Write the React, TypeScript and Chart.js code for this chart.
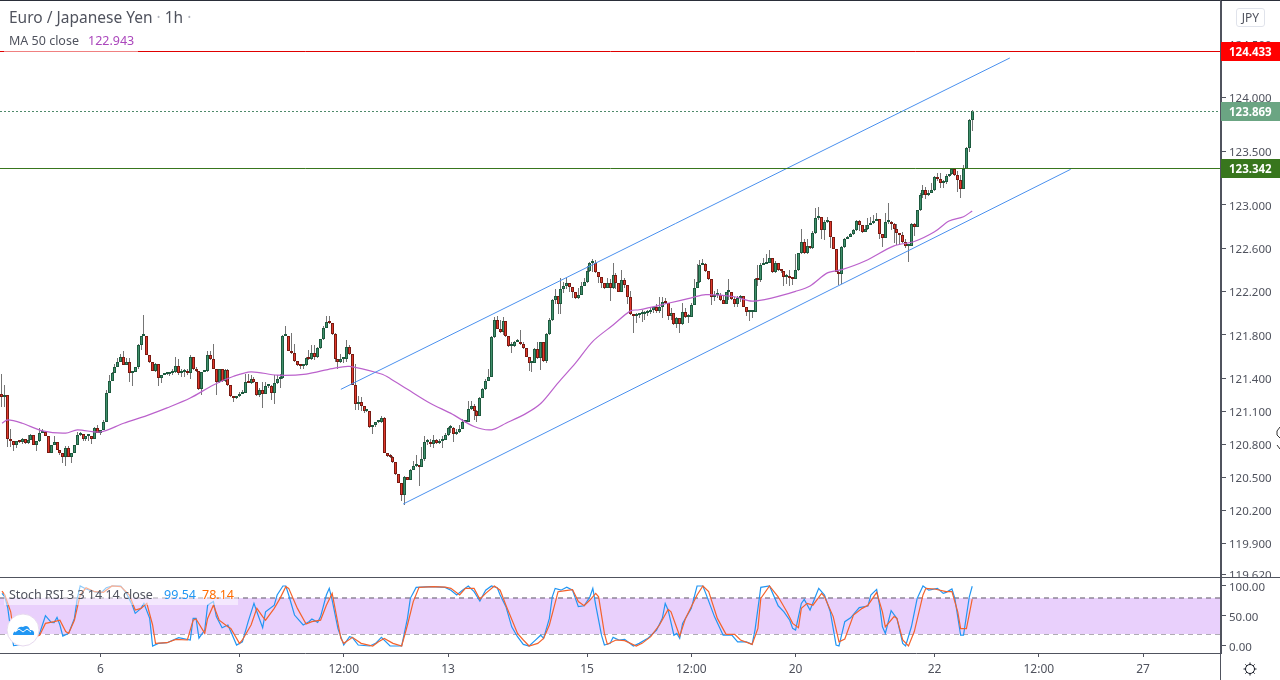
import { useEffect, useRef } from "react";
import { Chart, registerables } from "chart.js";

Chart.register(...registerables);

const FONT = '"Noto Sans", sans-serif';
const TEXT = "#50535e";

// candles, one per hour, open = previous close
const firstOpen = 121.26;
const closes = [
  121.23,121.25,120.85,120.83,120.79,120.83,120.82,120.85,120.81,120.84,
  120.88,120.79,120.83,120.90,120.91,120.87,120.72,120.79,120.82,120.75,
  120.72,120.68,120.76,120.68,120.72,120.79,120.88,120.89,120.85,120.87,
  120.87,120.85,120.95,120.90,120.93,121.00,121.27,121.38,121.45,121.50,
  121.55,121.60,121.52,121.55,121.45,121.46,121.50,121.71,121.79,121.79,
  121.61,121.55,121.47,121.53,121.40,121.43,121.44,121.44,121.45,121.46,
  121.51,121.45,121.46,121.47,121.45,121.60,121.49,121.47,121.30,121.46,
  121.47,121.61,121.58,121.49,121.37,121.49,121.38,121.48,121.34,121.24,
  121.22,121.24,121.26,121.27,121.37,121.36,121.39,121.37,121.25,121.29,
  121.26,121.33,121.33,121.27,121.36,121.39,121.40,121.79,121.79,121.65,
  121.63,121.56,121.52,121.51,121.52,121.59,121.58,121.63,121.60,121.68,
  121.76,121.86,121.92,121.91,121.81,121.58,121.55,
  121.58,121.58,121.69,121.62,121.34,121.17,121.18,121.15,121.10,121.10,
  120.96,120.97,121.00,121.00,121.04,120.72,120.69,120.68,120.64,120.53,
  120.45,120.34,120.50,120.47,120.56,120.60,120.60,120.59,120.66,120.82,
  120.82,120.80,120.84,120.81,120.83,120.84,120.88,120.95,120.95,120.89,
  120.91,120.94,121.00,121.00,121.12,121.15,121.10,121.06,121.22,121.30,
  121.38,121.41,121.78,121.94,121.85,121.83,121.93,121.79,121.70,121.70,
  121.73,121.73,121.72,121.68,121.60,121.54,121.54,121.67,121.59,121.73,
  121.56,121.81,121.94,122.12,122.16,122.08,122.22,122.25,122.28,122.24,
  122.19,122.14,122.17,122.25,122.29,122.39,122.46,122.46,122.38,122.33,
  122.28,122.23,122.28,122.23,122.35,122.28,122.19,122.30,122.26,122.15,
  121.99,121.97,121.98,121.99,121.99,122.00,122.01,122.03,122.06,122.02,
  122.06,122.10,122.09,121.97,122.00,121.90,121.95,121.90,122.01,121.96,
  121.96,122.07,122.23,122.29,122.44,122.45,122.39,122.31,122.15,122.17,
  122.17,122.12,122.08,122.19,122.19,122.13,122.08,122.14,122.16,122.06,
  122.01,122.01,122.01,122.31,122.30,122.44,122.45,122.46,122.51,122.38,
  122.46,122.40,122.39,122.33,122.33,122.32,122.31,122.40,122.55,122.66,
  122.55,122.62,122.60,122.74,122.88,122.89,122.77,122.84,122.85,122.70,
  122.59,122.38,122.36,122.61,122.68,122.70,122.73,122.77,122.85,122.81,
  122.75,122.78,122.81,122.83,122.85,122.87,122.73,122.69,122.84,122.84,
  122.82,122.78,122.74,122.72,122.66,122.62,122.62,122.82,122.79,122.95,
  123.09,123.14,123.09,123.11,123.14,123.26,123.24,123.20,123.21,123.27,
  123.29,123.33,123.28,123.23,123.15,123.33,123.53,123.79,123.87,
];
const highs = [
  121.44,121.34,121.25,120.94,120.83,120.83,120.83,120.86,120.85,120.88,
  120.89,120.88,120.83,120.95,120.94,120.91,120.87,120.79,120.87,120.82,
  120.75,120.72,120.78,120.78,120.72,120.79,120.91,120.91,120.89,120.87,
  120.88,120.87,120.96,120.97,120.93,121.02,121.29,121.43,121.46,121.53,
  121.59,121.62,121.65,121.59,121.59,121.46,121.50,121.72,121.79,121.98,
  121.79,121.61,121.55,121.54,121.53,121.43,121.44,121.44,121.46,121.49,
  121.60,121.58,121.49,121.49,121.49,121.61,121.60,121.50,121.47,121.46,
  121.47,121.65,121.65,121.72,121.49,121.49,121.49,121.49,121.49,121.34,
  121.24,121.24,121.28,121.29,121.44,121.44,121.43,121.41,121.37,121.31,
  121.37,121.37,121.34,121.34,121.43,121.43,121.44,121.80,121.88,121.79,
  121.82,121.72,121.56,121.53,121.53,121.60,121.66,121.71,121.71,121.69,
  121.76,121.88,121.97,121.97,121.91,121.82,121.58,
  121.62,121.60,121.75,121.71,121.62,121.53,121.24,121.23,121.15,121.11,
  121.10,120.97,121.00,121.00,121.06,121.05,120.72,120.71,120.69,120.64,
  120.53,120.45,120.51,120.50,120.57,120.65,120.70,120.60,120.77,120.87,
  120.85,120.85,120.88,120.85,120.85,120.87,120.90,120.96,120.97,120.96,
  120.94,120.97,121.03,121.02,121.19,121.19,121.17,121.11,121.23,121.31,
  121.39,121.49,121.79,121.96,121.97,121.94,121.96,121.93,121.79,121.73,
  121.74,121.76,121.84,121.73,121.68,121.60,121.54,121.68,121.73,121.73,
  121.73,121.82,121.95,122.13,122.22,122.16,122.32,122.29,122.32,122.28,
  122.24,122.19,122.23,122.29,122.32,122.43,122.47,122.50,122.49,122.38,
  122.33,122.28,122.32,122.31,122.46,122.37,122.28,122.40,122.32,122.26,
  122.20,121.99,122.00,122.00,122.03,122.02,122.03,122.06,122.06,122.08,
  122.15,122.15,122.14,122.09,122.05,122.00,121.96,121.95,122.09,122.05,
  121.99,122.09,122.31,122.45,122.49,122.50,122.46,122.39,122.31,122.20,
  122.22,122.18,122.16,122.19,122.31,122.19,122.15,122.16,122.17,122.16,
  122.06,122.03,122.03,122.32,122.44,122.46,122.51,122.54,122.58,122.51,
  122.48,122.46,122.41,122.39,122.36,122.40,122.33,122.54,122.55,122.78,
  122.68,122.68,122.62,122.76,122.97,122.98,122.89,122.86,122.89,122.85,
  122.70,122.59,122.39,122.62,122.69,122.71,122.74,122.78,122.86,122.86,
  122.81,122.81,122.88,122.89,122.91,122.92,122.87,122.73,122.92,123.02,
  122.85,122.83,122.82,122.74,122.75,122.68,122.63,122.83,122.83,122.95,
  123.11,123.18,123.17,123.14,123.20,123.27,123.30,123.30,123.23,123.29,
  123.29,123.34,123.34,123.31,123.28,123.37,123.54,123.80,123.88,
];
const lows = [
  121.14,121.14,120.77,120.77,120.74,120.76,120.81,120.80,120.80,120.80,
  120.84,120.79,120.74,120.82,120.90,120.87,120.72,120.72,120.79,120.75,
  120.70,120.63,120.60,120.68,120.63,120.72,120.79,120.87,120.83,120.83,
  120.83,120.80,120.85,120.90,120.88,120.93,121.00,121.27,121.38,121.45,
  121.50,121.55,121.52,121.52,121.37,121.33,121.46,121.49,121.66,121.79,
  121.61,121.54,121.47,121.46,121.33,121.36,121.43,121.43,121.42,121.43,
  121.45,121.43,121.41,121.41,121.43,121.39,121.48,121.46,121.29,121.25,
  121.46,121.46,121.57,121.49,121.25,121.36,121.37,121.37,121.33,121.23,
  121.18,121.21,121.23,121.26,121.27,121.36,121.35,121.36,121.24,121.23,
  121.13,121.26,121.31,121.20,121.17,121.35,121.31,121.39,121.79,121.65,
  121.62,121.55,121.51,121.49,121.49,121.51,121.57,121.57,121.57,121.59,
  121.67,121.75,121.86,121.90,121.80,121.55,121.49,
  121.54,121.54,121.55,121.61,121.34,121.11,121.11,121.10,121.08,121.09,
  120.95,120.89,120.96,120.99,120.99,120.72,120.68,120.67,120.63,120.52,
  120.45,120.28,120.25,120.47,120.47,120.56,120.59,120.42,120.59,120.65,
  120.79,120.77,120.76,120.80,120.80,120.76,120.84,120.87,120.90,120.82,
  120.88,120.90,120.94,120.99,121.00,121.11,121.02,121.00,121.06,121.22,
  121.29,121.38,121.41,121.77,121.85,121.82,121.80,121.78,121.69,121.63,
  121.69,121.73,121.71,121.67,121.60,121.47,121.46,121.54,121.58,121.48,
  121.55,121.54,121.80,121.93,122.08,121.99,121.99,122.18,122.22,122.19,
  122.14,122.13,122.13,122.19,122.25,122.28,122.38,122.38,122.37,122.28,
  122.23,122.22,122.23,122.11,122.22,122.22,122.19,122.19,122.23,122.08,
  121.98,121.82,121.91,121.95,121.92,121.94,121.97,121.99,122.00,122.00,
  122.00,121.95,122.08,121.94,121.94,121.89,121.86,121.82,121.89,121.95,
  121.91,121.96,122.08,122.23,122.28,122.44,122.38,122.30,122.07,122.11,
  122.14,122.11,122.08,122.08,122.12,122.12,122.06,122.06,122.10,122.06,
  121.97,121.93,121.95,122.01,122.25,122.29,122.44,122.46,122.46,122.37,
  122.37,122.39,122.37,122.25,122.27,122.25,122.26,122.31,122.39,122.54,
  122.54,122.54,122.59,122.59,122.73,122.86,122.68,122.67,122.83,122.60,
  122.59,122.38,122.26,122.27,122.60,122.68,122.70,122.72,122.76,122.76,
  122.74,122.75,122.77,122.81,122.82,122.85,122.68,122.61,122.69,122.82,
  122.77,122.65,122.63,122.63,122.65,122.60,122.47,122.62,122.71,122.79,
  122.94,123.06,123.05,123.08,123.11,123.13,123.22,123.16,123.16,123.19,
  123.26,123.28,123.27,123.12,123.06,123.15,123.33,123.49,123.69,
];

// MA 50, read at its bends
const maBars = [0,2,7,14,22,26,34,42,50,57,65,73,80,86,95,105,114,120,131,134,140,148,155,163,169,174,181,186,192,198,204,211,217,220,230,238,243,253,259,266,274,279,285,290,298,308,315,322,327,332,335];
const maValues = [120.99,121.02,120.99,120.92,120.90,120.93,120.91,120.99,121.06,121.13,121.22,121.34,121.42,121.46,121.43,121.44,121.49,121.51,121.44,121.40,121.30,121.17,121.08,120.96,120.93,120.99,121.08,121.17,121.36,121.54,121.74,121.89,122.02,122.03,122.09,122.14,122.17,122.15,122.11,122.14,122.20,122.25,122.37,122.40,122.48,122.62,122.66,122.75,122.85,122.89,122.943];

// channel drawn on the chart
const upperBars = [117, 348];
const upperPrices = [121.30, 124.37];
const lowerBars = [138.5, 369];
const lowerPrices = [120.255, 123.33];

const priceTicks = [124.5, 124, 123.5, 123, 122.6, 122.2, 121.8, 121.4, 121.1, 120.8, 120.5, 120.2, 119.9, 119.62];
const redLevel = 124.433;
const lastLevel = 123.869;
const greenLevel = 123.342;

// Stoch RSI, read at its bends
const kBars = [0,1,2,3,4,6,7,11,13,15,17,18,19,20,21,23,25,26,27,29,32,34,36,38,41,43,45,46,48,49,51,52,54,57,61,65,66,67,68,70,71,73,74,76,78,79,81,83,85,87,88,90,91,94,95,97,98,99,101,104,106,107,109,110,112,113,114,116,118,120,121,123,127,129,131,134,138,140,141,143,148,153,155,157,159,161,163,165,167,169,171,172,174,176,178,180,182,184,186,187,189,190,191,193,195,197,199,201,203,204,205,207,208,210,211,213,215,218,220,223,226,228,229,230,232,233,234,235,238,240,242,243,246,249,252,254,257,259,260,262,265,268,270,272,273,274,276,277,279,282,284,286,288,289,291,293,296,299,300,302,303,304,305,307,309,311,312,314,316,318,320,323,325,326,328,329,331,332,334,335];
const kValues = [87.7,82,63,27,0.5,1.6,4,13,21,50.5,39.4,39,47.7,35,16.6,21,46,79.4,100,95,90.5,87.7,97,100,100,87.7,68,54.4,62.7,71,46,0,4.4,5.5,14,10,46,46,13,26.6,68,74,49,30.5,35,24,1.6,7,40.5,71,57,30.5,57,68,85,100,100,85,51.6,35,40.5,45,39.4,49,85,96,76.6,29,1.6,15.5,14,1.6,0,4.4,14.4,0,0,46,79.4,97.7,98.9,97.7,93,85,93,100,90.5,75,93,100,97,85,65.5,32,15.5,2.7,0,9,18,12.7,46,82,96,93,98,93,65.5,67,82,96,68,18,1.6,4.4,14.4,10,11,0,4.4,12.7,26.6,46,71,60,18,21,12.7,37.7,62.7,100,100,87.7,49,18,18,7,7,2.7,26.6,97.7,100,67,57,43,29.4,26.6,71,77.7,60,96,85,57,1.6,0,40.5,47,64,66.6,85,94.4,68,32,21,59,46,4.4,0,32,79.4,100,93,96,87.7,89.4,95,79.4,18,18,82,99.54];
const dBars = [0,1,3,4,6,13,15,18,20,22,23,25,27,29,32,35,38,41,44,46,48,50,52,53,57,60,64,66,67,70,71,73,75,78,79,82,83,86,88,90,91,94,96,98,99,102,105,107,110,112,114,115,117,118,121,124,128,130,132,135,138,140,142,144,149,153,155,158,160,163,165,167,170,172,174,178,180,182,185,187,189,192,194,197,199,201,203,205,206,208,209,212,215,219,221,224,227,230,231,234,236,240,242,244,247,250,253,255,259,261,262,265,268,271,273,275,276,278,280,283,284,287,289,291,294,297,299,302,304,305,308,309,311,313,315,318,319,322,326,328,330,331,333,335];
const dValues = [91.6,85,57,24,7,18,37.7,40.5,43,24,21,43,85,97,90.5,89.4,100,98.9,85,60,62.7,71,35,4.4,5.5,11,10,43,45,21,46,68,43,32,29.4,4.4,10,35,62.7,49,43,62.7,79.4,98.9,96,62.7,36.6,40.5,43,68,87.7,62.7,12.7,4.4,14.4,4.4,0,7,12.7,4.4,0,35,74,97.7,98.9,98,96,85,96,96,78,87.7,100,93,68,21,10,0,4.4,12.7,35,90.5,92,94,74,67,76.6,87.7,82,21,3,10,8.9,0,4.4,15.5,35,61,57,16.6,46,85,100,90.5,46,19.4,19.4,10,2.7,29.4,79.4,100,82,57,37.7,30.5,62.7,71,68,87.7,82,49,7,11.6,51.6,62.7,68,89.4,57,32,49,46,10,0,24,85,96,95,90.5,90.5,57,29,29,78.14];

const stochTicks = [100, 50, 0];
const bandTop = 80;
const bandBottom = 20;

const timeTickBars = [34, 82, 118, 154, 202, 238, 274, 322, 358, 394];
const timeTickLabels = ["6", "8", "12:00", "13", "15", "12:00", "20", "22", "12:00", "27"];

const X_MIN = -0.69;
const X_MAX = 420.9;

const opens = closes.map((_, i) => (i === 0 ? firstOpen : closes[i - 1]));
const toPoints = (xs: number[], ys: number[]) => xs.map((x, i) => ({ x, y: ys[i] }));
const rowOf = (y: number) => Math.round(y - 0.25) + 0.5;

// candles and level lines sit on whole pixels in the reference
const snapMarks = {
  id: "snapMarks",
  beforeDatasetsDraw(chart: Chart) {
    [0, 1].forEach((d) => {
      chart.getDatasetMeta(d).data.forEach((el: any) => {
        el.x = Math.floor(el.x) + 0.5;
        el.y = Math.round(el.y);
        el.base = Math.round(el.base);
      });
    });
    [5, 6, 7].forEach((d) => {
      chart.getDatasetMeta(d).data.forEach((el: any) => {
        el.y = rowOf(el.y);
      });
    });
  },
};

const priceBoxes = {
  id: "priceBoxes",
  afterDraw(chart: Chart) {
    const { ctx, scales } = chart;
    const boxes = [
      { v: redLevel, bg: "#ff0000" },
      { v: lastLevel, bg: "#6ba583" },
      { v: greenLevel, bg: "#38761d" },
    ];
    ctx.save();
    ctx.font = `bold 11.5px ${FONT}`;
    ctx.textAlign = "left";
    ctx.textBaseline = "middle";
    for (const b of boxes) {
      const y = rowOf(scales.y.getPixelForValue(b.v));
      ctx.fillStyle = b.bg;
      ctx.fillRect(1221, y - 9.5, 59, 19);
      ctx.fillStyle = "#ffffff";
      ctx.fillText(b.v.toFixed(3), 1229, y + 1);
    }
    ctx.restore();
  },
};

function MainChart() {
  const ref = useRef<HTMLCanvasElement>(null);

  useEffect(() => {
    if (!ref.current) return;
    const up = closes.map((c, i) => c >= opens[i]);
    const hline = (v: number, color: string, dash: number[] = []) => ({
      type: "line" as const,
      data: [{ x: X_MIN, y: v }, { x: X_MAX, y: v }],
      borderColor: color,
      borderWidth: 1,
      borderDash: dash,
      pointRadius: 0,
      order: 1,
    });
    const chart = new Chart(ref.current, {
      type: "bar",
      data: {
        datasets: [
          {
            data: closes.map((_, i) => ({ x: i, y: [lows[i], highs[i]] })),
            backgroundColor: "#757575",
            borderWidth: 0,
            inflateAmount: 0,
            barThickness: 1,
            grouped: false,
            order: 5,
          },
          {
            data: closes.map((c, i) => ({ x: i, y: [opens[i], c] })),
            backgroundColor: up.map((u) => (u ? "#3f8f6b" : "#e0392b")),
            borderColor: up.map((u) => (u ? "#1d5a3e" : "#7a1a12")),
            borderWidth: 1,
            borderSkipped: false,
            inflateAmount: 0,
            barThickness: 3,
            minBarLength: 2,
            grouped: false,
            order: 4,
          },
          {
            type: "line",
            data: toPoints(maBars, maValues),
            borderColor: "#bb62cc",
            borderWidth: 1.2,
            pointRadius: 0,
            tension: 0.3,
            order: 3,
          },
          {
            type: "line",
            data: toPoints(upperBars, upperPrices),
            borderColor: "#4a90ee",
            borderWidth: 1,
            pointRadius: 0,
            order: 2,
          },
          {
            type: "line",
            data: toPoints(lowerBars, lowerPrices),
            borderColor: "#4a90ee",
            borderWidth: 1,
            pointRadius: 0,
            order: 2,
          },
          hline(redLevel, "#e00000"),
          hline(lastLevel, "#4f8a6b", [2, 2]),
          hline(greenLevel, "#38761d"),
        ] as any,
      },
      options: {
        animation: false,
        responsive: false,
        devicePixelRatio: 1,
        events: [],
        layout: { padding: 0 },
        plugins: { legend: { display: false }, tooltip: { enabled: false } },
        scales: {
          x: { type: "linear", display: false, min: X_MIN, max: X_MAX, offset: false },
          y: {
            type: "logarithmic",
            position: "right",
            min: 119.595,
            max: 124.915,
            border: { color: TEXT },
            grid: { drawOnChartArea: false, tickLength: 5, tickColor: TEXT },
            ticks: {
              color: TEXT,
              font: { family: FONT, size: 11.5 },
              padding: 3,
              labelOffset: 1.5,
              autoSkip: false,
              callback: (v) => Number(v).toFixed(3),
            },
            afterBuildTicks: (s) => {
              s.ticks = priceTicks.map((value) => ({ value }));
            },
            afterFit: (s) => {
              s.width = 59;
              s.paddingTop = 0;
              s.paddingBottom = 0;
            },
          },
        },
      },
      plugins: [snapMarks, priceBoxes],
    });
    return () => chart.destroy();
  }, []);

  return <canvas ref={ref} width={1280} height={577} style={{ position: "absolute", left: 0, top: 0 }} />;
}

function StochChart() {
  const ref = useRef<HTMLCanvasElement>(null);

  useEffect(() => {
    if (!ref.current) return;
    const dashed = (v: number) => ({
      data: [{ x: X_MIN, y: v }, { x: X_MAX, y: v }],
      borderColor: "#5d5566",
      borderWidth: 1,
      borderDash: [5, 4],
      pointRadius: 0,
      order: 3,
    });
    const chart = new Chart(ref.current, {
      type: "line",
      data: {
        datasets: [
          { ...dashed(bandTop), fill: { value: bandBottom }, backgroundColor: "#e9d0fc" },
          dashed(bandBottom),
          {
            data: toPoints(kBars, kValues),
            borderColor: "#2196f3",
            borderWidth: 1.2,
            pointRadius: 0,
            order: 2,
          },
          {
            data: toPoints(dBars, dValues),
            borderColor: "#f4622c",
            borderWidth: 1.2,
            pointRadius: 0,
            order: 1,
          },
        ],
      },
      options: {
        animation: false,
        responsive: false,
        devicePixelRatio: 1,
        events: [],
        layout: { padding: { top: 1 } },
        plugins: { legend: { display: false }, tooltip: { enabled: false } },
        scales: {
          x: {
            type: "linear",
            min: X_MIN,
            max: X_MAX,
            border: { color: TEXT },
            grid: { drawOnChartArea: false, tickLength: 4, tickColor: TEXT },
            ticks: {
              color: TEXT,
              font: { family: FONT, size: 12 },
              padding: 5,
              autoSkip: false,
              maxRotation: 0,
              callback: (v) => timeTickLabels[timeTickBars.indexOf(Number(v))] ?? "",
            },
            afterBuildTicks: (s) => {
              s.ticks = timeTickBars.map((value) => ({ value }));
            },
            afterFit: (s) => {
              s.height = 27;
              s.paddingLeft = 0;
              s.paddingRight = 0;
            },
          },
          y: {
            position: "right",
            min: -11.67,
            max: 113.3,
            border: { color: TEXT },
            grid: { drawOnChartArea: false, tickLength: 5, tickColor: TEXT },
            ticks: {
              color: TEXT,
              font: { family: FONT, size: 11.5 },
              padding: 3,
              labelOffset: 1.5,
              autoSkip: false,
              callback: (v) => Number(v).toFixed(2),
            },
            afterBuildTicks: (s) => {
              s.ticks = stochTicks.map((value) => ({ value }));
            },
            afterFit: (s) => {
              s.width = 59;
              s.paddingTop = 0;
              s.paddingBottom = 0;
            },
          },
        },
      },
    });
    return () => chart.destroy();
  }, []);

  return <canvas ref={ref} width={1280} height={103} style={{ position: "absolute", left: 0, top: 577 }} />;
}

const label = (left: number, top: number, size: number, color: string) => ({
  position: "absolute" as const,
  left,
  top,
  fontFamily: FONT,
  fontSize: size,
  lineHeight: `${size + 4}px`,
  color,
  whiteSpace: "pre" as const,
});

export default function App() {
  return (
    <div style={{ position: "relative", width: 1280, height: 680, overflow: "hidden", background: "#fff" }}>
      <style>{"body{margin:0;overflow:hidden}"}</style>
      <MainChart />
      <StochChart />
      {/* pane borders */}
      <div style={{ position: "absolute", left: 0, top: 0, width: 1280, height: 1, background: "#2a2e39" }} />
      <div style={{ position: "absolute", left: 0, top: 577, width: 1280, height: 1, background: TEXT }} />
      <div style={{ position: "absolute", left: 1220, top: 0, width: 1, height: 680, background: TEXT }} />

      {/* legends */}
      <div style={{ position: "absolute", left: 4, top: 31, width: 134, height: 21, background: "rgba(255,255,255,0.5)" }} />
      <div style={label(9, 8, 15.5, TEXT)}>Euro / Japanese Yen <span style={{ color: "#b2b5be" }}>·</span> 1h <span style={{ color: "#b2b5be" }}>·</span></div>
      <div style={label(9, 33, 12.5, TEXT)}>MA 50 close</div>
      <div style={label(88, 33, 12.5, "#ab47bc")}>122.943</div>
      <div style={{ position: "absolute", left: 4, top: 585, width: 234, height: 20, background: "rgba(255,255,255,0.5)" }} />
      <div style={label(9, 587, 12.5, TEXT)}>Stoch RSI 3 3 14 14 close</div>
      <div style={label(164, 587, 12.5, "#2196f3")}>99.54</div>
      <div style={label(202, 587, 12.5, "#ff6d00")}>78.14</div>

      {/* currency button */}
      <div style={{ ...label(1236, 8, 12, TEXT), width: 27, height: 17, lineHeight: "17px", border: "1px solid #e0e3eb", borderRadius: 3, textAlign: "center" }}>JPY</div>

      {/* logo, gear and cursor */}
      <svg width={1280} height={680} style={{ position: "absolute", left: 0, top: 0, pointerEvents: "none" }}>
        <circle cx={23} cy={630} r={16} fill="#fff" stroke="#e6d9ee" />
        <path d="M13 635 q0 -4 4 -4 q1 -5 6 -4 q5 -3 7 3 q5 0 4 5 z" fill="#2196f3" />
        <path d="M15 632 l4 -3 l4 3 l4 -3 l4 3" fill="none" stroke="#fff" strokeWidth={1} />
        <circle cx={1250} cy={669} r={4.5} fill="none" stroke="#131722" />
        <path d="M1250 662.5v2M1250 673.5v2M1243.5 669h2M1254.5 669h2M1245.4 664.4l1.4 1.4M1253.2 672.2l1.4 1.4M1245.4 673.6l1.4-1.4M1253.2 665.8l1.4-1.4" stroke="#131722" />
        <path d="M1280 427 l-3 4 v4 l3 3 M1280 449 l-3 -4" fill="none" stroke="#333" />
      </svg>
    </div>
  );
}
